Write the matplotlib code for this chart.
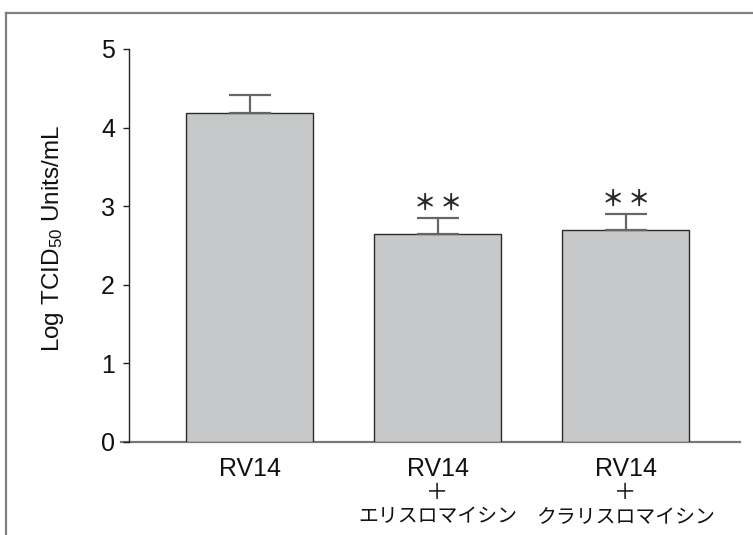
import matplotlib
matplotlib.use("Agg")
import matplotlib.pyplot as plt
from matplotlib.lines import Line2D
import numpy as np

# Data
groups = ["RV14", "RV14", "RV14"]
additions = ["", "＋", "＋"]
drugs = ["", "エリスロマイシン", "クラリスロマイシン"]
means = [4.19, 2.65, 2.69]
errors = [0.23, 0.20, 0.21]
stars = [0, 2, 2]
yticks = [0, 1, 2, 3, 4, 5]

plt.rcParams["font.family"] = ["Liberation Sans", "Noto Sans CJK JP"]
plt.rcParams["mathtext.fontset"] = "custom"
plt.rcParams["mathtext.rm"] = "Liberation Sans"
plt.rcParams["mathtext.default"] = "regular"

W, H = 753, 535
fig = plt.figure(figsize=(W / 100, H / 100), dpi=100)

ax_left, ax_right = 129, 740
ax_top, ax_bot = 49, 441.7
ax = fig.add_axes([ax_left / W, 1 - ax_bot / H,
                   (ax_right - ax_left) / W, (ax_bot - ax_top) / H])

x = np.arange(len(means))
ax.bar(x, means, width=0.678, color="#c7c8c9", edgecolor="#2a2a2a",
       linewidth=1.0, zorder=2)
ax.errorbar(x, means, yerr=[np.zeros(len(errors)), errors], fmt="none",
            ecolor="#666666", elinewidth=1.6, capsize=14.8, capthick=1.6,
            zorder=3)

# significance marks above the error bars
for xi, m, e, n in zip(x, means, errors, stars):
    offsets = (np.arange(n) - (n - 1) / 2) * 18.5
    for dx in offsets:
        ax.annotate("＊", xy=(xi, m + e + 0.18), xycoords="data",
                    xytext=(dx, 0), textcoords="offset points",
                    ha="center", va="center", fontsize=16, fontweight="bold",
                    family="Noto Sans CJK JP", color="#2a2a2a")

ax.set_xlim(-0.641, 2.609)
ax.set_ylim(0, 5)
ax.set_yticks(yticks)
ax.set_yticklabels([str(t) for t in yticks])
ax.tick_params(axis="y", direction="out", length=4, width=1.0,
               color="#222222", labelsize=18, pad=6, labelcolor="#111111")
ax.set_xticks([])

for side in ("top", "right", "bottom"):
    ax.spines[side].set_visible(False)
ax.spines["left"].set_color("#222222")
ax.spines["left"].set_linewidth(1.0)

# baseline, running a little left of the y axis
ax.add_line(Line2D([-8 / (ax_right - ax_left), 1], [0, 0],
                   transform=ax.transAxes, color="#777777", linewidth=1.6,
                   clip_on=False, zorder=1))

# category labels in three lines
for xi, g, a, d in zip(x, groups, additions, drugs):
    ax.annotate(g, xy=(xi, 0), xycoords=("data", "axes fraction"),
                xytext=(0, -19.7), textcoords="offset points",
                ha="center", va="center", fontsize=18, color="#111111")
    if a:
        ax.annotate(a, xy=(xi, 0), xycoords=("data", "axes fraction"),
                    xytext=(0, -36.4), textcoords="offset points",
                    ha="center", va="center", fontsize=16,
                    family="Noto Sans CJK JP", color="#111111")
    if d:
        ax.annotate(d, xy=(xi, 0), xycoords=("data", "axes fraction"),
                    xytext=(0, -53.8), textcoords="offset points",
                    ha="center", va="center", fontsize=14.3,
                    family="Noto Sans CJK JP", color="#111111")

ax.set_ylabel("Log TCID$_{50}$ Units/mL", fontsize=17.5, color="#111111")
ax.yaxis.set_label_coords(-(129 - 66) / (ax_right - ax_left),
                          (ax_bot - 238) / (ax_bot - ax_top))

# panel frame (top and left edges)
fig.add_artist(Line2D([6 / W, 6 / W], [0, 1 - 13 / H], color="#808080",
                      linewidth=1.6))
fig.add_artist(Line2D([6 / W, 1], [1 - 13 / H, 1 - 13 / H], color="#808080",
                      linewidth=1.6))

fig.savefig("out.png", dpi=100)
